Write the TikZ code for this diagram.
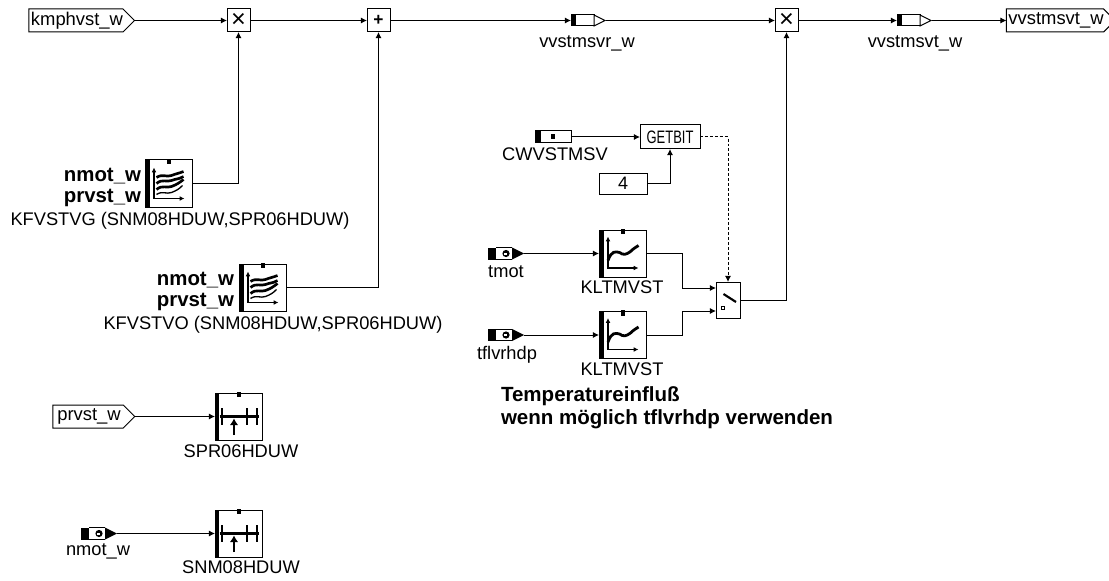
\documentclass[tikz,border=0pt]{standalone}
\usepackage{fontspec}
\setmainfont{Liberation Sans}
\newfontfamily\narrowfont[FakeStretch=0.72]{Liberation Sans}
\usetikzlibrary{arrows.meta,positioning,shapes.symbols}

\begin{document}
\begin{tikzpicture}[
  x=0.75pt, y=-0.75pt,
  every node/.style={inner sep=0pt, outer sep=0pt},
  flow/.style={-{Latex[length=4.6pt,width=4.6pt]}, line width=0.75pt},
  lbl/.style={font=\fontsize{13.7}{15}\selectfont, anchor=base},
  boldlbl/.style={font=\fontsize{15.3}{17}\selectfont\bfseries, anchor=base east},
  note/.style={font=\fontsize{15.4}{16}\selectfont\bfseries, anchor=base west},
  inport/.style={draw, line width=0.75pt, signal, signal to=east, signal pointer angle=90,
    minimum height=17.25pt, font=\fontsize{13.8}{15}\selectfont},
  opbox/.style={draw, line width=0.75pt, minimum width=17.25pt, minimum height=17.25pt,
    font=\fontsize{19}{15}\selectfont},
  topmark/.style={append after command={
    \pgfextra{\fill[white] ([xshift=-3.8pt,yshift=-0.6pt]\tikzlastnode.north) rectangle ([xshift=3.8pt,yshift=0.6pt]\tikzlastnode.north);
    \fill ([xshift=-1.5pt,yshift=0.8pt]\tikzlastnode.north) rectangle ([xshift=1.5pt,yshift=-3.2pt]\tikzlastnode.north);}}},
  block/.style={draw, line width=0.75pt, minimum width=35.25pt, minimum height=35.25pt, topmark},
  curvemap/.style={block, path picture={
    \begin{scope}[shift={(path picture bounding box.center)}]
      \fill (-23.5,-23.5) rectangle (-18.5,23.5);
      \draw[{Latex[length=3.6pt,width=3.6pt]}-{Latex[length=3.6pt,width=3.6pt]}, line width=1pt] (-14.5,-16) -- (-14.5,15) -- (16,15);
      \draw[line width=2pt] (-12,-6) .. controls (-6,-10) and (-2,-6) .. (3,-8) .. controls (8,-10) and (10,-10) .. (15,-12);
      \draw[line width=2pt] (-12,0) .. controls (-6,-5) and (-2,-1) .. (3,-3) .. controls (8,-5) and (10,-4) .. (15,-7);
      \draw[line width=2pt] (-12,6) .. controls (-6,1) and (-2,5) .. (3,3) .. controls (8,1) and (10,0) .. (15,-4);
      \draw[line width=1pt] (-12,11) .. controls (-6,7) and (-2,11) .. (3,9) .. controls (8,7) and (10,6) .. (14,2);
    \end{scope}}},
  curveone/.style={block, path picture={
    \begin{scope}[shift={(path picture bounding box.center)}]
      \fill (-23.5,-23.5) rectangle (-18.5,23.5);
      \draw[{Latex[length=3.6pt,width=3.6pt]}-{Latex[length=3.6pt,width=3.6pt]}, line width=1pt] (-14.5,-17) -- (-14.5,14.5) -- (16,14.5);
      \draw[line width=2.1pt] (-14.5,7) .. controls (-11,-3) and (-7,-2) .. (-3,-1) .. controls (1,2) and (4,1) .. (8,-2) .. controls (11,-5) and (13,-6) .. (16,-8);
    \end{scope}}},
  axisblock/.style={block, path picture={
    \begin{scope}[shift={(path picture bounding box.center)}]
      \fill (-23.5,-23.5) rectangle (-19.5,23.5);
      \draw[line width=2.2pt] (-19,0) -- (20.5,0);
      \draw[line width=1.2pt] (-16.5,-8.5) -- (-16.5,8.5) (8.5,-8.5) -- (8.5,8.5) (18.5,-8.5) -- (18.5,8.5);
      \draw[-{Latex[length=5pt,width=6.5pt]}, line width=1.4pt] (-4.5,18.5) -- (-4.5,2);
    \end{scope}}},
  switchbox/.style={draw, line width=0.75pt, minimum width=18pt, minimum height=27pt, path picture={
    \begin{scope}[shift={(path picture bounding box.center)}]
      \draw[line width=1.6pt] (-4.5,-6) -- (8,2);
      \draw[line width=0.7pt] (-7,6) rectangle (-4,9);
    \end{scope}}},
  calbox/.style={draw, line width=0.75pt, minimum width=27pt, minimum height=9pt, path picture={
    \begin{scope}[shift={(path picture bounding box.center)}]
      \fill (-18,-6) rectangle (-12,6);
      \fill (-2,-3) rectangle (1.5,2.5);
    \end{scope}}},
  probe/.style={minimum width=27pt, minimum height=9pt, path picture={
    \begin{scope}[shift={(path picture bounding box.center)}]
      \fill (-18,-6) rectangle (-10,6);
      \fill (6,-6) -- (18,0) -- (6,6) -- cycle;
      \draw[line width=0.75pt] (-10,-5.7) -- (6,-5.7) (-10,5.7) -- (6,5.7);
      \fill (0,0) circle (3.6);
      \fill[white] (-1.8,-1) rectangle (1.4,1);
    \end{scope}}},
  measure/.style={minimum width=26.25pt, minimum height=9pt, path picture={
    \begin{scope}[shift={(path picture bounding box.center)}]
      \fill (-17.5,-6) rectangle (-12.5,6);
      \draw[line width=0.75pt] (-12.5,-5.5) -- (5.5,-5.5) -- (5.5,5.5) -- (-12.5,5.5);
      \draw[line width=0.75pt, fill=white] (5.5,-5.5) -- (16.5,0) -- (5.5,5.5) -- cycle;
    \end{scope}}}
]
\useasboundingbox (0,0) rectangle (1109,581);

% top row
\node[inport, minimum width=78pt] (kmphvst) at (76,20.5) {\hspace{1.5pt}kmphvst\_w\hspace{-1.5pt}};
\node[opbox] (multa) at (238.5,20.5) {×};
\node[opbox] (plusa) at (378.5,20.5) {\bfseries\fontsize{13}{13}\selectfont +};
\node[measure] (vvstmsvr) at (588.5,20.5) {};
\node[opbox] (multb) at (786.5,20.5) {×};
\node[measure] (vvstmsvt) at (914.5,20.5) {};
\node[inport, minimum width=76pt] (outport) at (1055,20.5) {\hspace{1.5pt}vvstmsvt\_w\hspace{-1.5pt}};
\node[lbl] (vvstmsvrlbl) at (587,48) {vvstmsvr\_w};
\node[lbl] (vvstmsvtlbl) at (915,48) {vvstmsvt\_w};

% maps
\node[curvemap] (kfvstvg) at (168.5,183.5) {};
\node[boldlbl] (kfgn) at (141,181) {nmot\_w};
\node[boldlbl] (kfgp) at (141,202) {prvst\_w};
\node[lbl] (kfgname) at (180,225) {KFVSTVG (SNM08HDUW,SPR06HDUW)};
\node[curvemap] (kfvstvo) at (262.5,287.5) {};
\node[boldlbl] (kfon) at (234,285) {nmot\_w};
\node[boldlbl] (kfop) at (234,306) {prvst\_w};
\node[lbl] (kfoname) at (273,329) {KFVSTVO (SNM08HDUW,SPR06HDUW)};

% bit selection
\node[calbox] (cwvstmsv) at (553,137) {};
\node[lbl] (cwlbl) at (555,161) {CWVSTMSV};
\node[draw, line width=0.75pt, minimum width=45pt, minimum height=18pt,
  font=\narrowfont\fontsize{13.5}{15}\selectfont] (getbit) at (670,137) {GETBIT};
\node[draw, line width=0.75pt, minimum width=36pt, minimum height=15.75pt,
  font=\fontsize{13.5}{15}\selectfont] (bitfour) at (623,183.5) {4};

% temperature
\node[probe] (tmot) at (506,253.5) {};
\node[lbl] (tmotlbl) at (506,277) {tmot};
\node[curveone] (kltmvsta) at (622.5,253.5) {};
\node[lbl] (kltalbl) at (622,293) {KLTMVST};
\node[probe] (tflvrhdp) at (506,335) {};
\node[lbl] (tfllbl) at (507,359) {tflvrhdp};
\node[curveone] (kltmvstb) at (622.5,335) {};
\node[lbl] (kltblbl) at (622,375) {KLTMVST};
\node[switchbox] (switch) at (728,300) {};
\coordinate (switcha) at (716,288);
\coordinate (switchb) at (716,311);
\node[note] (notea) at (501,401) {Temperatureinfluß};
\node[note] (noteb) at (501,424) {wenn möglich tflvrhdp verwenden};

% axes
\node[inport, minimum width=61.5pt] (prvst) at (88,416.5) {\hspace{1.5pt}prvst\_w\hspace{-1.5pt}};
\node[axisblock] (spr) at (238.5,416.5) {};
\node[lbl] (sprlbl) at (241,457) {SPR06HDUW};
\node[probe] (nmot) at (99,533.5) {};
\node[lbl] (nmotlbl) at (98,555) {nmot\_w};
\node[axisblock] (snm) at (238.5,533.5) {};
\node[lbl] (snmlbl) at (241,573) {SNM08HDUW};

\draw[flow] (kmphvst.east) -- (multa.west);
\draw[flow] (multa.east) -- (plusa.west);
\draw[flow] (plusa.east) -- (vvstmsvr.west);
\draw[flow] (vvstmsvr.east) -- (multb.west);
\draw[flow] (multb.east) -- (vvstmsvt.west);
\draw[flow] (vvstmsvt.east) -- (outport.west);
\draw[flow] (kfvstvg.east) -| (multa.south);
\draw[flow] (kfvstvo.east) -| (plusa.south);
\draw[flow] (cwvstmsv.east) -- (getbit.west);
\draw[flow] (bitfour.east) -| (getbit.south);
\draw[flow, dash pattern=on 2.2pt off 1.5pt] (getbit.east) -| (switch.north);
\draw[flow] (tmot.east) -- (kltmvsta.west);
\draw[flow] (tflvrhdp.east) -- (kltmvstb.west);
\draw[flow] (kltmvsta.east) -- ++(36,0) |- (switcha);
\draw[flow] (kltmvstb.east) -- ++(36,0) |- (switchb);
\draw[flow] (switch.east) -| (multb.south);
\draw[flow] (prvst.east) -- (spr.west);
\draw[flow] (nmot.east) -- (snm.west);
\end{tikzpicture}
\end{document}
